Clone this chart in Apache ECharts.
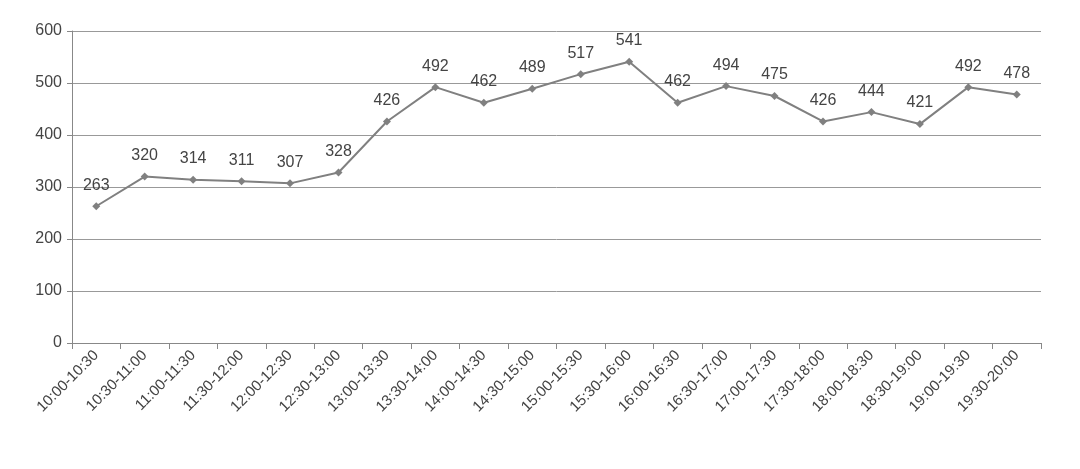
<!DOCTYPE html>
<html><head><meta charset="utf-8">
<script src="https://cdn.jsdelivr.net/npm/echarts@6/dist/echarts.min.js"></script>
<style>html,body{margin:0;padding:0;background:#fff}#c{width:1080px;height:469px}</style>
</head><body><div id="c"></div>
<script>
const categories = ["10:00-10:30","10:30-11:00","11:00-11:30","11:30-12:00","12:00-12:30","12:30-13:00","13:00-13:30","13:30-14:00","14:00-14:30","14:30-15:00","15:00-15:30","15:30-16:00","16:00-16:30","16:30-17:00","17:00-17:30","17:30-18:00","18:00-18:30","18:30-19:00","19:00-19:30","19:30-20:00"];
const values = [263,320,314,311,307,328,426,492,462,489,517,541,462,494,475,426,444,421,492,478];
const yTicks = {min:0,max:600,interval:100};
const chart = echarts.init(document.getElementById('c'));
chart.setOption({
  animation:false,
  grid:{left:72,right:39,top:31,bottom:126},
  xAxis:{type:'category',data:categories,boundaryGap:true,
    axisLine:{lineStyle:{color:'#888'}},
    axisTick:{show:true,length:6,lineStyle:{color:'#888'}},
    axisLabel:{rotate:45,color:'#444',fontSize:15,fontFamily:'Liberation Sans, Arial',interval:0,margin:10}},
  yAxis:{type:'value',min:yTicks.min,max:yTicks.max,interval:yTicks.interval,
    axisLine:{show:true,lineStyle:{color:'#888'}},axisTick:{show:true,length:5,lineStyle:{color:'#888'}},
    splitLine:{lineStyle:{color:'#999',width:1}},
    axisLabel:{color:'#444',fontSize:16,fontFamily:'Liberation Sans, Arial',margin:10}},
  series:[{type:'line',data:values,symbol:'diamond',symbolSize:8,
    lineStyle:{color:'#808080',width:2},itemStyle:{color:'#808080'},
    label:{show:true,position:'top',distance:9,color:'#444',fontSize:16,fontFamily:'Liberation Sans, Arial'}}]
});
</script></body></html>
